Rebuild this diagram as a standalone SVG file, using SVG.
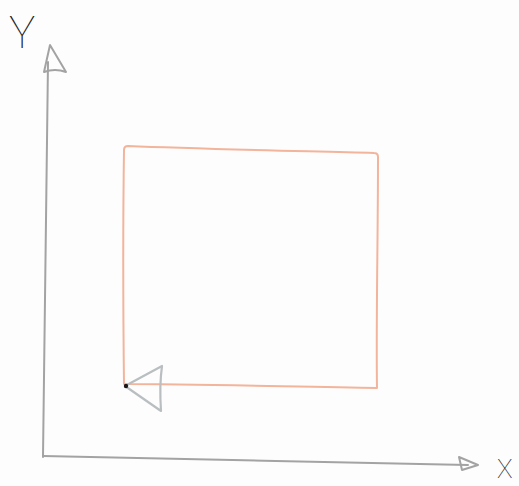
<svg xmlns="http://www.w3.org/2000/svg" width="519" height="486" viewBox="0 0 519 486">
<style>
.axis{fill:none;stroke:#a3a3a3;stroke-width:2;stroke-linecap:round;stroke-linejoin:round}
.lbl{font-family:Roboto,Inter,"Liberation Sans",sans-serif;font-weight:100;fill:#1a1a1a}
.box{fill:none;stroke:#f3b49c;stroke-width:2;stroke-linecap:round;stroke-linejoin:round}
.tri{fill:none;stroke:#b9bec1;stroke-width:2.2;stroke-linejoin:round}
</style>
<rect width="519" height="486" fill="#fdfdfd"/>
<g id="connectors">
<path class="axis" d="M43,457 C44,330 46,200 48,62"/>
<path class="axis" d="M50,45 L44,72 Q55,68 66,72 Z"/>
<path class="axis" d="M43,456 C180,459 330,462 468,465"/>
<path class="axis" d="M459,457 L478,465 L462,470 Z"/>
</g>
<g id="y-label"><text class="lbl" x="9" y="48" font-size="44">Y</text></g>
<g id="x-label"><text class="lbl" x="497" y="478" font-size="26">X</text></g>
<g id="rect-node">
<path class="box" d="M124,384 C123,300 123,220 124,150 Q124,146 128,146 C200,149 300,151 374,153 Q378,153 378,157 C378,240 376,320 377,388 C300,387 200,384 124,384 Z"/>
</g>
<g id="origin-marker">
<path class="tri" d="M125,386 L162,366 C160,380 160,396 161,411 Z"/>
<circle cx="126" cy="386" r="2.2" fill="#1a1a1a"/>
</g>
</svg>
